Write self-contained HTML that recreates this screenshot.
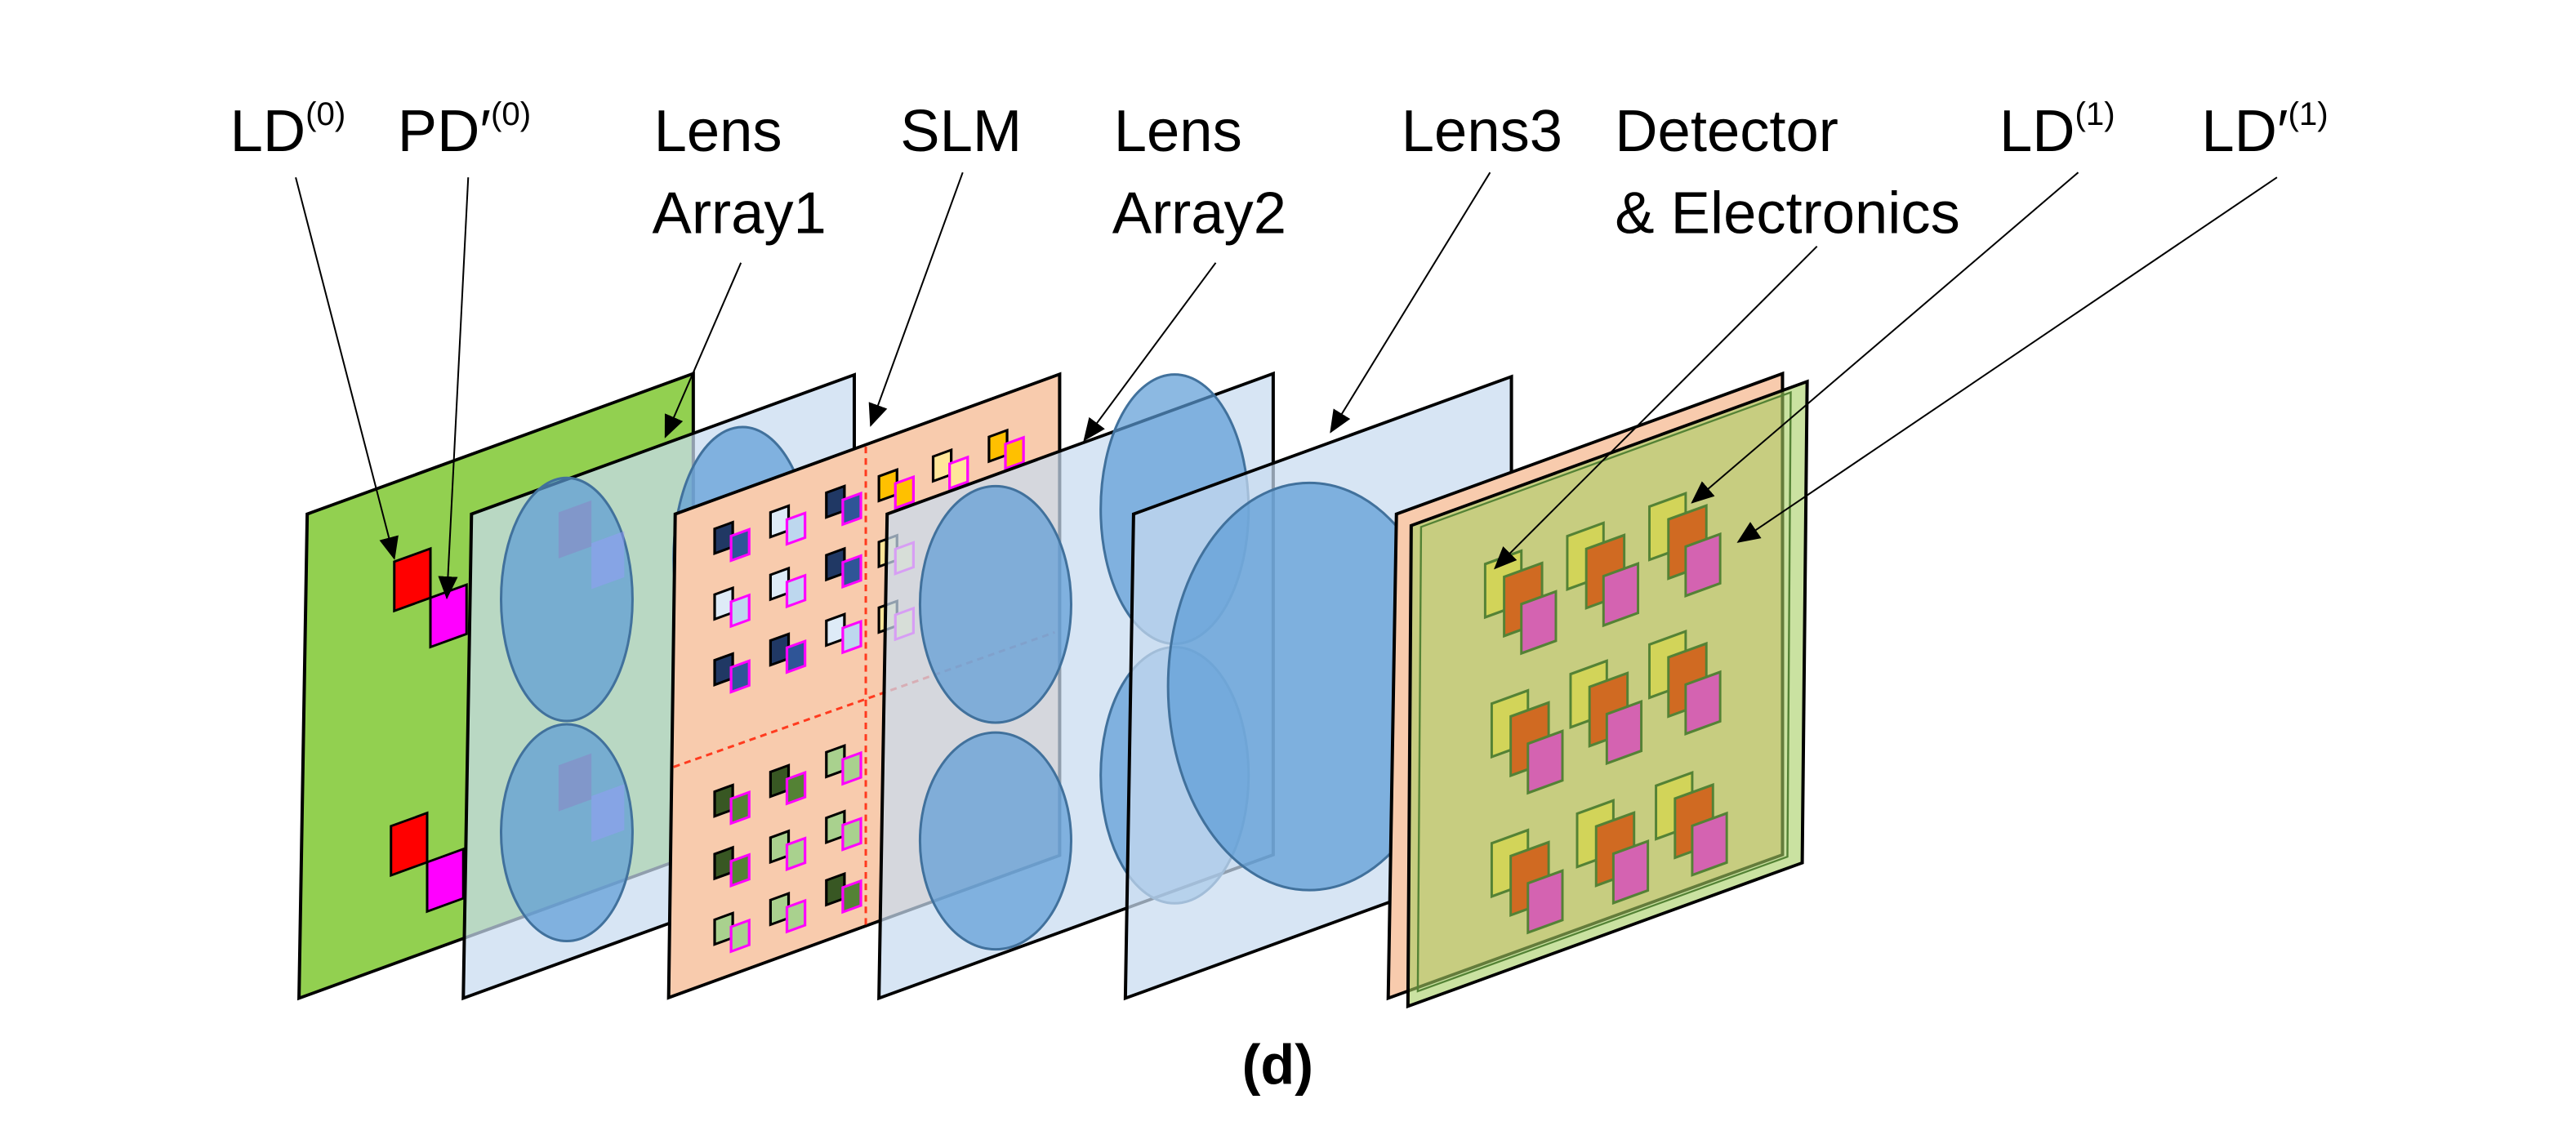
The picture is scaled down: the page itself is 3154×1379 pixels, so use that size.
<!DOCTYPE html>
<html><head><meta charset="utf-8"><style>
html,body{margin:0;padding:0;background:#fff;}
svg{display:block;}
text{font-family:"Liberation Sans","Noto Sans CJK KR",sans-serif;fill:#000;}
</style></head><body>
<svg width="3154" height="1379" viewBox="0 0 1568 685.6" preserveAspectRatio="none" xmlns="http://www.w3.org/2000/svg">
<defs>
<marker id="ah" markerWidth="14" markerHeight="12" refX="13" refY="6" orient="auto" markerUnits="userSpaceOnUse" viewBox="0 0 14 12">
<path d="M0,0 L14,6 L0,12 z" fill="#000"/></marker>
<g id="pb"><rect x="0" y="0" width="11" height="15" stroke="#000" stroke-width="1.6" fill="#203864"/><rect x="10" y="8" width="11" height="15" stroke="#ff00ff" stroke-width="1.6" fill="#2f5597"/></g>
<g id="pl"><rect x="0" y="0" width="11" height="15" stroke="#000" stroke-width="1.6" fill="#deebf7"/><rect x="10" y="8" width="11" height="15" stroke="#ff00ff" stroke-width="1.6" fill="#bdd7ee"/></g>
<g id="po"><rect x="0" y="0" width="11" height="15" stroke="#000" stroke-width="1.6" fill="#ffc000"/><rect x="10" y="8" width="11" height="15" stroke="#ff00ff" stroke-width="1.6" fill="#ffc000"/></g>
<g id="py"><rect x="0" y="0" width="11" height="15" stroke="#000" stroke-width="1.6" fill="#ffe699"/><rect x="10" y="8" width="11" height="15" stroke="#ff00ff" stroke-width="1.6" fill="#ffe699"/></g>
<g id="pg"><rect x="0" y="0" width="11" height="15" stroke="#000" stroke-width="1.6" fill="#385723"/><rect x="10" y="8" width="11" height="15" stroke="#ff00ff" stroke-width="1.6" fill="#548235"/></g>
<g id="pq"><rect x="0" y="0" width="11" height="15" stroke="#000" stroke-width="1.6" fill="#a9d18e"/><rect x="10" y="8" width="11" height="15" stroke="#ff00ff" stroke-width="1.6" fill="#a9d18e"/></g>
<g id="dg" stroke="#548235" stroke-width="1.4"><rect x="-20" y="-16" width="21" height="27" fill="#d2d459"/><rect x="-9" y="-6" width="22" height="30" fill="#d06a22"/><rect x="1" y="11" width="20" height="25" fill="#d463b1"/></g>
</defs>

<g transform="translate(187,313) skewY(-20)">
<polygon points="0,0 235,0 235,293 -5,293" fill="#92d050" stroke="#000" stroke-width="2"/>
</g>
<g transform="translate(240,342) skewY(-20)" stroke="#000" stroke-width="1.5">
<rect x="0" y="0" width="22" height="30" fill="#ff0000"/><rect x="22" y="30" width="22" height="30" fill="#ff00ff"/></g>
<g transform="translate(238,503) skewY(-20)" stroke="#000" stroke-width="1.5">
<rect x="0" y="0" width="22" height="30" fill="#ff0000"/><rect x="22" y="30" width="22" height="30" fill="#ff00ff"/></g>

<g transform="translate(287,313) skewY(-20)">
<polygon points="0,0 233,0 233,293 -5,293" fill="#c7dbf0" fill-opacity="0.72" stroke="#000" stroke-width="2"/>
</g>
<g fill="#5b9bd5" fill-opacity="0.7" stroke="#41719c" stroke-width="1.5">
<ellipse cx="452" cy="340" rx="42" ry="80"/>
<ellipse cx="345" cy="365" rx="40" ry="74"/>
<ellipse cx="345" cy="507" rx="40" ry="66"/>
</g>
<g fill="#8e7cc3" fill-opacity="0.45">
<g transform="translate(340,312) skewY(-20)"><rect x="0" y="0" width="20" height="28"/><rect x="20" y="26" width="20" height="28" fill="#9999ff"/></g>
<g transform="translate(340,466) skewY(-20)"><rect x="0" y="0" width="20" height="28"/><rect x="20" y="26" width="20" height="28" fill="#9999ff"/></g>
</g>

<g transform="translate(411,313) skewY(-20)">
<polygon points="0,0 234,0 234,293 -4,293" fill="#f8cbad" stroke="#000" stroke-width="2"/>
</g>
<line x1="527" y1="272" x2="527" y2="565" stroke="#ff3b1f" stroke-width="1.5" stroke-dasharray="4,3"/>
<line x1="410" y1="467" x2="642" y2="385" stroke="#ff3b1f" stroke-width="1.5" stroke-dasharray="4,3"/>
<g>
<use href="#pb" transform="translate(435,322) skewY(-20)"/><use href="#pl" transform="translate(469,312) skewY(-20)"/><use href="#pb" transform="translate(503,300) skewY(-20)"/>
<use href="#pl" transform="translate(435,362) skewY(-20)"/><use href="#pl" transform="translate(469,350) skewY(-20)"/><use href="#pb" transform="translate(503,338) skewY(-20)"/>
<use href="#pb" transform="translate(435,402) skewY(-20)"/><use href="#pb" transform="translate(469,390) skewY(-20)"/><use href="#pl" transform="translate(503,378) skewY(-20)"/>
<use href="#po" transform="translate(535,290) skewY(-20)"/><use href="#py" transform="translate(568,278) skewY(-20)"/><use href="#po" transform="translate(602,266) skewY(-20)"/>
<use href="#py" transform="translate(535,330) skewY(-20)"/><use href="#py" transform="translate(535,370) skewY(-20)"/>
<use href="#pg" transform="translate(435,482) skewY(-20)"/><use href="#pg" transform="translate(469,470) skewY(-20)"/><use href="#pq" transform="translate(503,458) skewY(-20)"/>
<use href="#pg" transform="translate(435,520) skewY(-20)"/><use href="#pq" transform="translate(469,510) skewY(-20)"/><use href="#pq" transform="translate(503,498) skewY(-20)"/>
<use href="#pq" transform="translate(435,560) skewY(-20)"/><use href="#pq" transform="translate(469,548) skewY(-20)"/><use href="#pg" transform="translate(503,536) skewY(-20)"/>
</g>

<g transform="translate(540,313) skewY(-20)">
<polygon points="0,0 235,0 235,293 -5,293" fill="#c7dbf0" fill-opacity="0.72" stroke="#000" stroke-width="2"/>
</g>
<g fill="#5b9bd5" fill-opacity="0.7" stroke="#41719c" stroke-width="1.5">
<ellipse cx="715" cy="310" rx="45" ry="82"/>
<ellipse cx="715" cy="472" rx="45" ry="78"/>
<ellipse cx="606" cy="368" rx="46" ry="72"/>
<ellipse cx="606" cy="512" rx="46" ry="66"/>
</g>

<g transform="translate(690,313) skewY(-20)">
<polygon points="0,0 230,0 230,293 -5,293" fill="#c7dbf0" fill-opacity="0.72" stroke="#000" stroke-width="2"/>
</g>
<ellipse cx="797" cy="418" rx="86" ry="124" fill="#5b9bd5" fill-opacity="0.72" stroke="#41719c" stroke-width="1.5"/>

<g transform="translate(850,313) skewY(-20)">
<polygon points="0,0 235,0 235,293 -5,293" fill="#f8cbad" stroke="#000" stroke-width="2"/>
</g>
<g transform="translate(859,320) skewY(-20)">
<polygon points="0,0 241,0 238,292 -2,292" fill="#a7cf62" fill-opacity="0.6" stroke="#000" stroke-width="2"/>
<polygon points="6,3 231,3 229,285 4,285" fill="none" stroke="#548235" stroke-width="1.2"/>
</g>
<g>
<use href="#dg" transform="translate(925,355) skewY(-20) scale(1.05,1.2)"/><use href="#dg" transform="translate(975,338) skewY(-20) scale(1.05,1.2)"/><use href="#dg" transform="translate(1025,320) skewY(-20) scale(1.05,1.2)"/>
<use href="#dg" transform="translate(929,440) skewY(-20) scale(1.05,1.2)"/><use href="#dg" transform="translate(977,422) skewY(-20) scale(1.05,1.2)"/><use href="#dg" transform="translate(1025,404) skewY(-20) scale(1.05,1.2)"/>
<use href="#dg" transform="translate(929,525) skewY(-20) scale(1.05,1.2)"/><use href="#dg" transform="translate(981,507) skewY(-20) scale(1.05,1.2)"/><use href="#dg" transform="translate(1029,490) skewY(-20) scale(1.05,1.2)"/>
</g>

<g stroke="#000" stroke-width="1" fill="none" marker-end="url(#ah)">
<line x1="180" y1="108" x2="240" y2="340"/>
<line x1="285" y1="108" x2="272" y2="364"/>
<line x1="451" y1="160" x2="405" y2="266"/>
<line x1="586" y1="105" x2="530" y2="259"/>
<line x1="740" y1="160" x2="660" y2="268"/>
<line x1="907" y1="105" x2="810" y2="263"/>
<line x1="1106" y1="150" x2="910" y2="346"/>
<line x1="1265" y1="105" x2="1030" y2="306"/>
<line x1="1386" y1="108" x2="1058" y2="330"/>
</g>

<g font-size="36">
<text x="140" y="92">LD<tspan font-size="20" dy="-16">(0)</tspan></text>
<text x="242" y="92">PD′<tspan font-size="20" dy="-16">(0)</tspan></text>
<text x="398" y="92">Lens</text>
<text x="397" y="142">Array1</text>
<text x="548" y="92">SLM</text>
<text x="678" y="92">Lens</text>
<text x="677" y="142">Array2</text>
<text x="853" y="92">Lens3</text>
<text x="983" y="92">Detector</text>
<text x="983" y="142">&amp; Electronics</text>
<text x="1217" y="92">LD<tspan font-size="20" dy="-16">(1)</tspan></text>
<text x="1340" y="92">LD′<tspan font-size="20" dy="-16">(1)</tspan></text>
</g>
<text x="756" y="660" font-family="Liberation Serif, serif" font-weight="bold" font-size="34">(d)</text>
</svg>
</body></html>
